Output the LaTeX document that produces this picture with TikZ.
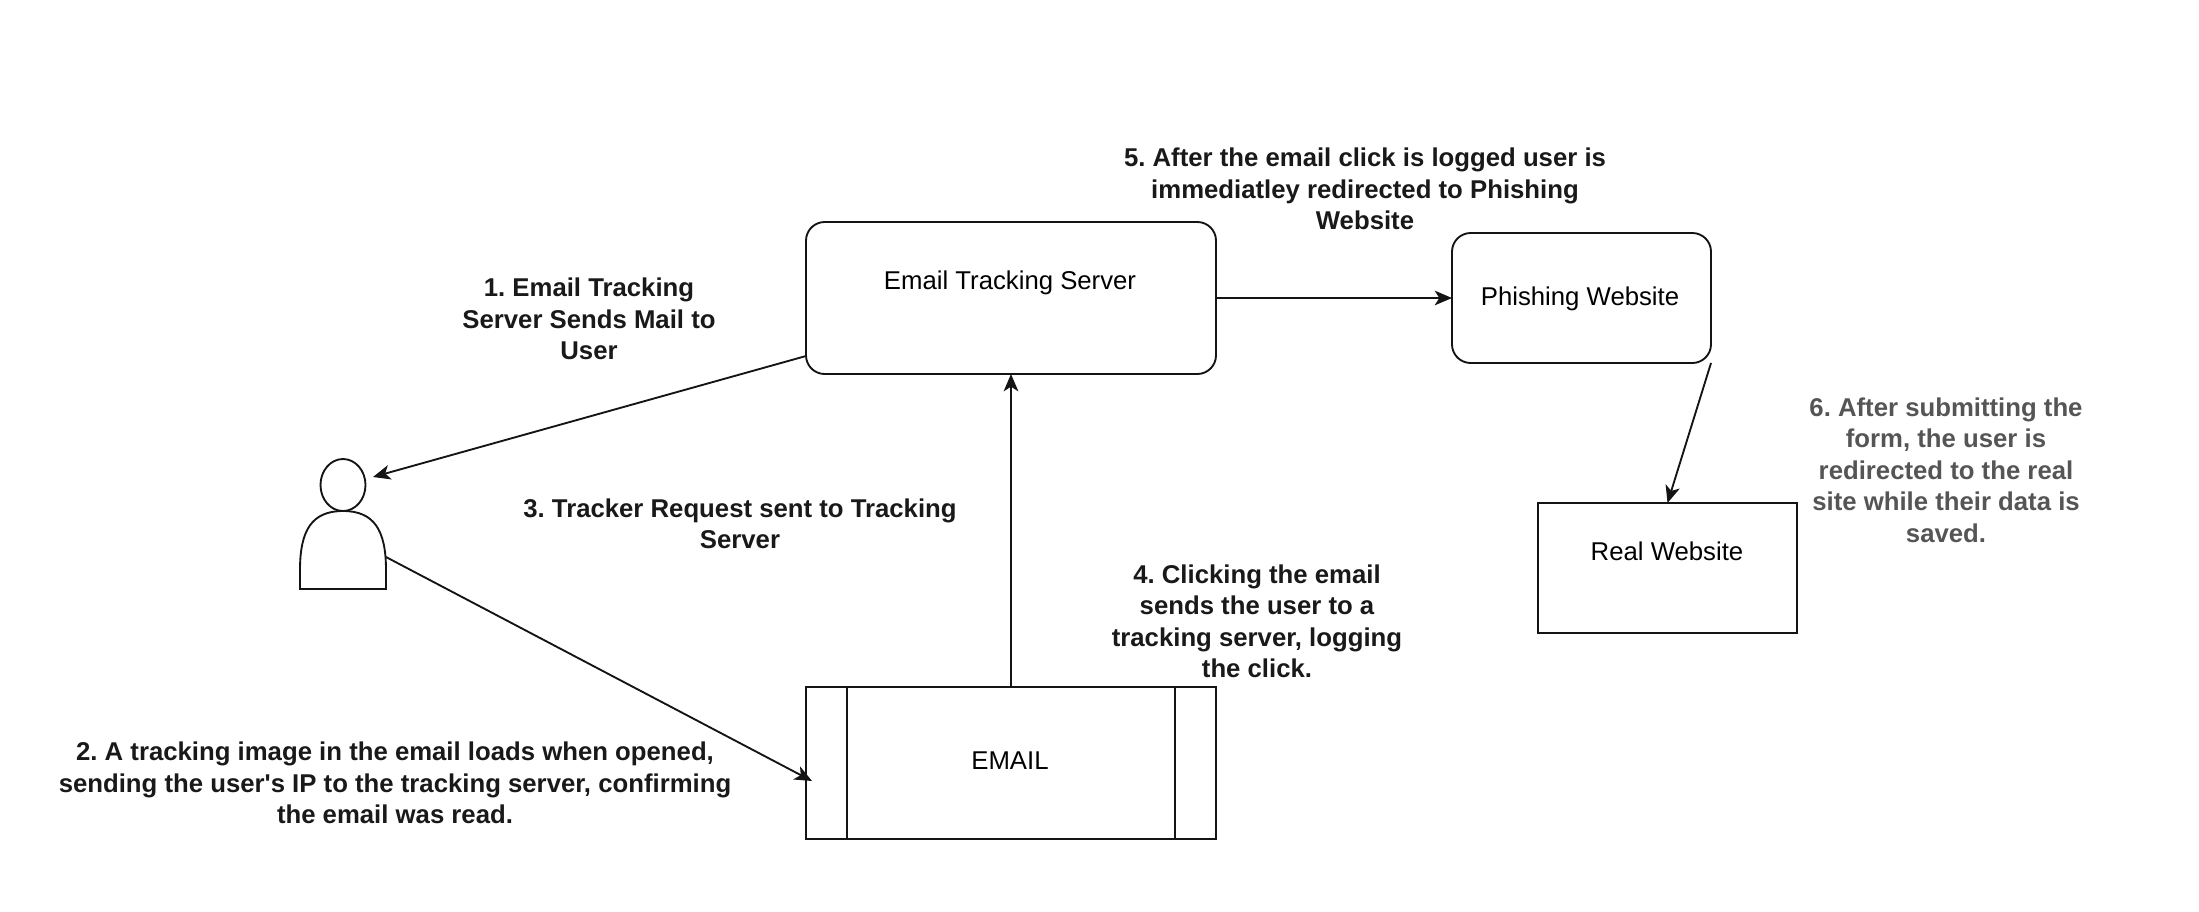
\documentclass[tikz,border=0pt]{standalone}
\usepackage{fontspec}
\newfontfamily\lsans{Liberation Sans}
\usetikzlibrary{arrows.meta,shapes.geometric}
\definecolor{notegrey}{HTML}{555555}
\tikzset{
  ln/.style={line width=1.4pt,draw=black!92},
  box/.style={ln,rectangle,inner sep=0pt,outer sep=0pt},
  rbox/.style={box,rounded corners=14pt},
  lab/.style={inner sep=0pt,align=center,font=\lsans\frenchspacing\fontsize{19.3}{23.6}\selectfont},
  note/.style={lab,font=\lsans\frenchspacing\fontsize{19.3}{23.6}\selectfont\bfseries,text=black!90},
  link/.style={ln,-{Stealth[length=13pt,width=11pt,inset=3.5pt]},shorten >=0pt}
}
\begin{document}
\begin{tikzpicture}[x=0.75pt,y=-0.75pt]
\useasboundingbox (0,0) rectangle (2199,911);
% boxes
\node[rbox,minimum width=307.5pt,minimum height=114pt] (server) at (1011,298) {};
\node[rbox,minimum width=194.25pt,minimum height=97.5pt] (phish) at (1581.5,298) {};
\node[box,minimum width=194.25pt,minimum height=97.5pt] (real) at (1667.5,568) {};
\node[box,minimum width=307.5pt,minimum height=114pt] (email) at (1011,763) {};
\draw[ln] ([xshift=30.75pt]email.north west) -- ([xshift=30.75pt]email.south west);
\draw[ln] ([xshift=-30.75pt]email.north east) -- ([xshift=-30.75pt]email.south east);
% person
\node[ln,draw,ellipse,minimum width=33.75pt,minimum height=39pt,inner sep=0pt,outer sep=0pt] (head) at (343,485) {};
\coordinate (bodytop) at (343,511);
\draw[ln] (300,589) -- (300,570) .. controls (300,530) and (312,511) .. (bodytop)
  .. controls (374,511) and (386,530) .. (386,570) -- (386,589) -- cycle;
\coordinate (userin) at (373,477);
\coordinate (userout) at (386,557);
% labels
\node[lab] (serverlab) at (1010,283) {Email Tracking Server};
\node[lab] (phishlab) at (1580,299) {Phishing Website};
\node[lab] (reallab) at (1667,551) {Real Website};
\node[lab] (emaillab) at (1010,761) {EMAIL};
% notes
\node[note] (n1) at (589,319) {1. Email Tracking\\Server Sends Mail to\\User};
\node[note] (n2) at (395,783) {2. A tracking image in the email loads when opened,\\sending the user's IP to the tracking server, confirming\\the email was read.};
\node[note] (n3) at (740,524) {3. Tracker Request sent to Tracking\\Server};
\node[note] (n4) at (1257,621.5) {4. Clicking the email\\sends the user to a\\tracking server, logging\\the click.};
\node[note] (n5) at (1365,189) {5. After the email click is logged user is\\immediatley redirected to Phishing\\Website};
\node[note,text=notegrey] (n6) at (1946,470) {6. After submitting the\\form, the user is\\redirected to the real\\site while their data is\\saved.};
% connectors
\coordinate (serverout) at (806,356);
\coordinate (emailin) at (812,781);
\draw[link] (serverout) -- (userin);
\draw[link] (userout) -- (emailin);
\draw[link] (email.north) -- (server.south);
\draw[link] (server.east) -- (phish.west);
\draw[link] (phish.south east) -- (real.north);
\end{tikzpicture}
\end{document}
